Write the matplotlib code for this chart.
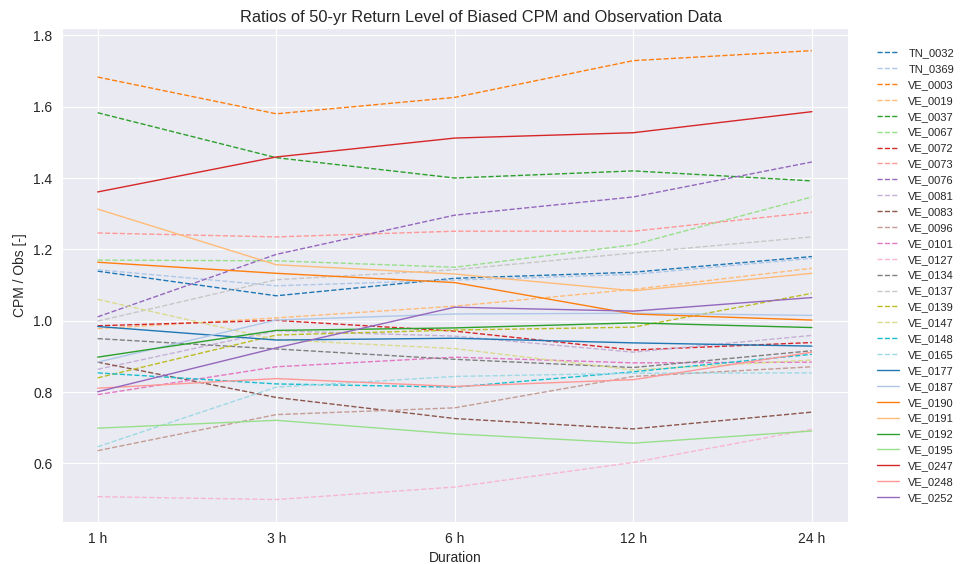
import numpy as np
import matplotlib
matplotlib.use("Agg")
import matplotlib.pyplot as plt
import seaborn as sns

# Durations on the x axis
durations = ["1 h", "3 h", "6 h", "12 h", "24 h"]

# CPM / Obs ratio of the 50-yr return level for each station (1h, 3h, 6h, 12h, 24h)
TN_0032 = [1.139, 1.070, 1.119, 1.136, 1.180]
TN_0369 = [1.143, 1.098, 1.114, 1.130, 1.175]
VE_0003 = [1.683, 1.580, 1.626, 1.729, 1.757]
VE_0019 = [0.978, 1.008, 1.041, 1.088, 1.147]
VE_0037 = [1.583, 1.457, 1.400, 1.420, 1.392]
VE_0067 = [1.170, 1.168, 1.150, 1.213, 1.347]
VE_0072 = [0.986, 1.001, 0.971, 0.918, 0.939]
VE_0073 = [1.246, 1.235, 1.251, 1.251, 1.304]
VE_0076 = [1.011, 1.186, 1.296, 1.347, 1.445]
VE_0081 = [0.864, 0.972, 0.957, 0.912, 0.959]
VE_0083 = [0.884, 0.785, 0.726, 0.697, 0.744]
VE_0096 = [0.636, 0.737, 0.756, 0.844, 0.871]
VE_0101 = [0.793, 0.871, 0.898, 0.882, 0.884]
VE_0127 = [0.507, 0.499, 0.534, 0.603, 0.696]
VE_0134 = [0.950, 0.921, 0.892, 0.869, 0.916]
VE_0137 = [0.999, 1.115, 1.143, 1.190, 1.235]
VE_0139 = [0.840, 0.960, 0.974, 0.982, 1.077]
VE_0147 = [1.060, 0.947, 0.922, 0.862, 0.890]
VE_0148 = [0.854, 0.823, 0.814, 0.857, 0.906]
VE_0165 = [0.647, 0.814, 0.844, 0.853, 0.854]
VE_0177 = [0.984, 0.946, 0.951, 0.938, 0.929]
VE_0187 = [0.884, 1.002, 1.019, 1.021, 1.015]
VE_0190 = [1.164, 1.133, 1.107, 1.019, 1.002]
VE_0191 = [1.313, 1.157, 1.131, 1.084, 1.133]
VE_0192 = [0.898, 0.973, 0.980, 0.994, 0.981]
VE_0195 = [0.699, 0.721, 0.683, 0.657, 0.691]
VE_0247 = [1.361, 1.459, 1.512, 1.527, 1.586]
VE_0248 = [0.811, 0.838, 0.816, 0.835, 0.912]
VE_0252 = [0.801, 0.924, 1.038, 1.027, 1.065]

stations = {
    "TN_0032": TN_0032, "TN_0369": TN_0369, "VE_0003": VE_0003, "VE_0019": VE_0019,
    "VE_0037": VE_0037, "VE_0067": VE_0067, "VE_0072": VE_0072, "VE_0073": VE_0073,
    "VE_0076": VE_0076, "VE_0081": VE_0081, "VE_0083": VE_0083, "VE_0096": VE_0096,
    "VE_0101": VE_0101, "VE_0127": VE_0127, "VE_0134": VE_0134, "VE_0137": VE_0137,
    "VE_0139": VE_0139, "VE_0147": VE_0147, "VE_0148": VE_0148, "VE_0165": VE_0165,
    "VE_0177": VE_0177, "VE_0187": VE_0187, "VE_0190": VE_0190, "VE_0191": VE_0191,
    "VE_0192": VE_0192, "VE_0195": VE_0195, "VE_0247": VE_0247, "VE_0248": VE_0248,
    "VE_0252": VE_0252,
}

sns.set_style("darkgrid")
plt.rcParams["font.family"] = ["Liberation Sans", "DejaVu Sans"]

colors = plt.cm.tab20.colors

fig = plt.figure(figsize=(9.61, 5.64), dpi=100)
ax = fig.add_axes([0.0645, 0.0745, 0.8175, 0.8755])

x = np.arange(len(durations))
for i, (name, vals) in enumerate(stations.items()):
    # first 20 stations dashed, the rest solid (colour cycle wraps at 20)
    ls = "--" if i < 20 else "-"
    ax.plot(x, vals, ls=ls, lw=1.0, color=colors[i % 20], label=name)

ax.set_xticks(x)
ax.set_xticklabels(durations)
ax.tick_params(labelsize=10)
ax.set_xlabel("Duration", fontsize=10)
ax.set_ylabel("CPM / Obs [-]", fontsize=10)
fig.suptitle("Ratios of 50-yr Return Level of Biased CPM and Observation Data",
             fontsize=11.8, y=0.983)

ax.legend(loc="upper left", bbox_to_anchor=(1.025, 0.98), fontsize=8,
          labelspacing=0.53, frameon=False)

fig.savefig("out.png", dpi=100)
